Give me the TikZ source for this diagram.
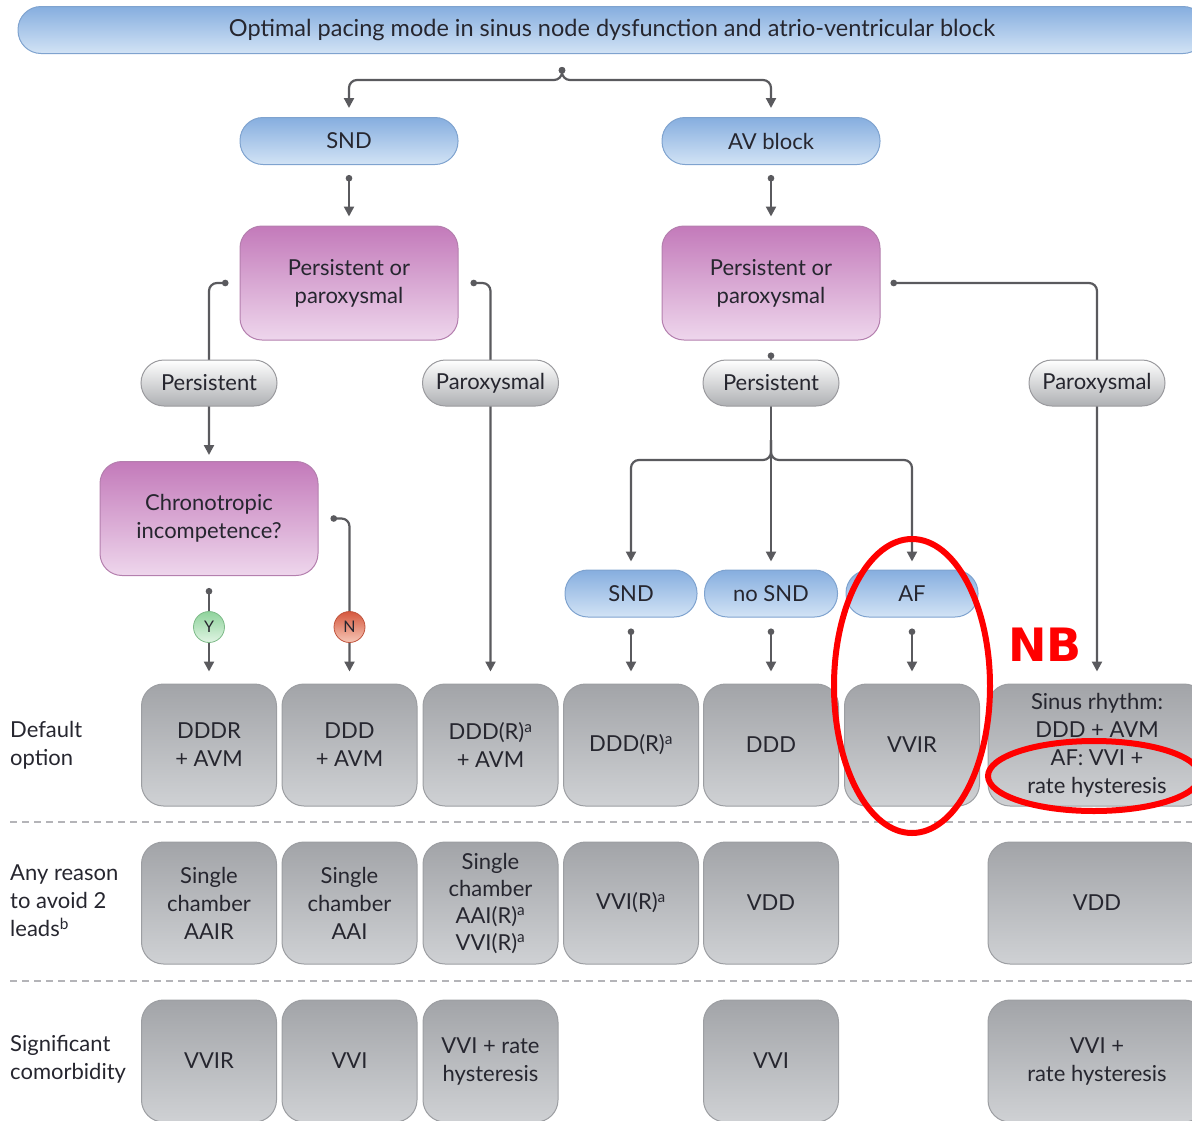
\documentclass[tikz,border=0pt]{standalone}
\usepackage{fontspec}
\setmainfont{Lato}
\newfontfamily\nbfont{DejaVu Sans}
\usetikzlibrary{arrows.meta,backgrounds,calc,shapes.geometric}
\definecolor{txt}{HTML}{26262F}
\definecolor{linec}{HTML}{5A5A5E}
\definecolor{bluetop}{HTML}{86AEDF}
\definecolor{bluebot}{HTML}{D2E3F5}
\definecolor{bluebd}{HTML}{7FA3CF}
\definecolor{purtop}{HTML}{C37ABA}
\definecolor{purbot}{HTML}{EED6EC}
\definecolor{purbd}{HTML}{B47FAE}
\definecolor{graytop}{HTML}{A2A4A8}
\definecolor{graybot}{HTML}{CFD1D4}
\definecolor{graybd}{HTML}{9C9EA2}
\definecolor{pilltop}{HTML}{FFFFFF}
\definecolor{pillbot}{HTML}{AEB0B3}
\definecolor{pillbd}{HTML}{9A9A9E}
\definecolor{ytop}{HTML}{8FD39C}
\definecolor{ybot}{HTML}{E0F4E3}
\definecolor{ntop}{HTML}{D5583E}
\definecolor{nbot}{HTML}{F6C6B6}
\definecolor{ybd}{HTML}{7DBA88}
\definecolor{nbd}{HTML}{C0533C}
\definecolor{dashc}{HTML}{B4B4B8}
\definecolor{nbred}{HTML}{FF0000}
\begin{document}
\begin{tikzpicture}[x=1pt,y=-1pt,
  base/.style={align=center, text=txt, font=\fontsize{22}{28}\selectfont, inner sep=0pt},
  bluepill/.style={base, draw=bluebd, line width=1pt, top color=bluetop, bottom color=bluebot, rounded corners=23pt, minimum height=47pt},
  purbox/.style={base, draw=purbd, line width=1pt, top color=purtop, bottom color=purbot, rounded corners=22pt, minimum width=218pt, minimum height=114pt},
  graypill/.style={base, draw=pillbd, line width=1pt, top color=pilltop, bottom color=pillbot, rounded corners=23pt, minimum width=136pt, minimum height=46pt},
  optbox/.style={base, draw=graybd, line width=1pt, top color=graytop, bottom color=graybot, rounded corners=22pt, minimum width=135pt, minimum height=122pt},
  widebox/.style={optbox, minimum width=218pt},
  rowlabel/.style={base, anchor=west, align=left},
  yn/.style={circle, draw=#1bd, line width=0.8pt, top color=#1top, bottom color=#1bot, minimum size=31pt, inner sep=0pt, text=txt, font=\fontsize{16}{16}\selectfont},
  wire/.style={draw=linec, line width=2.2pt, rounded corners=8pt},
  conn/.style={wire, {Circle[length=6.5pt]}-{Triangle[length=10pt,width=10pt]}, shorten <=10pt, shorten >=9pt},
  arr/.style={wire, -{Triangle[length=10pt,width=10pt]}, shorten >=9pt},
  divider/.style={draw=dashc, line width=1.6pt, dash pattern=on 7pt off 5pt},
  redring/.style={draw=nbred, line width=6pt}
]
\useasboundingbox (0,0) rectangle (1192,1120);

% top
\node[bluepill, minimum width=1188pt, font=\fontsize{23.5}{28}\selectfont] (title) at (612,30) {Optimal pacing mode in sinus node dysfunction and atrio-ventricular block};
\node[bluepill, minimum width=218pt] (snd) at (349,141) {SND};
\node[bluepill, minimum width=218pt] (avb) at (771,141) {AV block};
\node[purbox] (popL) at (349,283) {Persistent or\\paroxysmal};
\node[purbox] (popR) at (771,283) {Persistent or\\paroxysmal};
\node[graypill] (persL) at (209,383) {Persistent};
\node[graypill] (paroxL) at (490.5,383) {Paroxysmal};
\node[graypill] (persR) at (771,383) {Persistent};
\node[graypill] (paroxR) at (1097,383) {Paroxysmal};
\node[purbox] (chrono) at (209,518.5) {Chronotropic\\incompetence?};
\node[yn=y] (yes) at (209,627) {Y};
\node[yn=n] (no) at (349.5,627) {N};
\node[bluepill, minimum width=132pt] (sndL) at (631,593.5) {SND};
\node[bluepill, minimum width=133pt] (nosnd) at (771,593.5) {no SND};
\node[bluepill, minimum width=132pt] (af) at (912,593.5) {AF};

% row labels
\node[rowlabel] (lab1) at (10,745) {Default\\option};
\node[rowlabel] (lab2) at (10,901) {Any reason\\to avoid 2\\leads\textsuperscript{b}};
\node[rowlabel] (lab3) at (10,1059) {Significant\\comorbidity};

% row 1
\node[optbox] (b11) at (209,745) {DDDR\\+ AVM};
\node[optbox] (b12) at (349.5,745) {DDD\\+ AVM};
\node[optbox] (b13) at (490.5,745) {DDD(R)\textsuperscript{a}\\+ AVM};
\node[optbox] (b14) at (631,745) {DDD(R)\textsuperscript{a}};
\node[optbox] (b15) at (771,745) {DDD};
\node[optbox] (b16) at (912,745) {VVIR};
\node[widebox] (b17) at (1097,745) {Sinus rhythm:\\DDD + AVM\\AF: VVI +\\rate hysteresis};
% row 2
\node[optbox] (b21) at (209,903) {Single\\chamber\\AAIR};
\node[optbox] (b22) at (349.5,903) {Single\\chamber\\AAI};
\node[optbox, font=\fontsize{22}{27}\selectfont] (b23) at (490.5,903) {Single\\chamber\\AAI(R)\textsuperscript{a}\\VVI(R)\textsuperscript{a}};
\node[optbox] (b24) at (631,903) {VVI(R)\textsuperscript{a}};
\node[optbox] (b25) at (771,903) {VDD};
\node[widebox] (b27) at (1097,903) {VDD};
% row 3
\node[optbox] (b31) at (209,1061) {VVIR};
\node[optbox] (b32) at (349.5,1061) {VVI};
\node[optbox] (b33) at (490.5,1061) {VVI + rate\\hysteresis};
\node[optbox] (b35) at (771,1061) {VVI};
\node[widebox] (b37) at (1097,1061) {VVI +\\rate hysteresis};

\coordinate (tsplit) at (562,67);
\coordinate (tbar) at (562,80);
\coordinate (jtop) at (771,440);
\coordinate (jn) at (771,460);

\begin{scope}[on background layer]
  \draw[divider] (10,822) -- (1192,822);
  \draw[divider] (10,981) -- (1192,981);
  \draw[wire, {Circle[length=6.5pt]}-{Triangle[length=10pt,width=10pt]}, shorten >=9pt] (tsplit) |- (snd.north |- tbar) -- (snd.north);
  \draw[wire, {Circle[length=6.5pt]}-{Triangle[length=10pt,width=10pt]}, shorten >=9pt] (tsplit) |- (avb.north |- tbar) -- (avb.north);
  \draw[conn] (snd.south) -- (popL.north);
  \draw[conn] (avb.south) -- (popR.north);
  \draw[conn, shorten <=11pt, shorten >=6pt] (popL.west) -| (chrono.north);
  \draw[conn, shorten <=12pt, shorten >=12pt] (popL.east) -| (b13.north);
  \draw[conn, shorten <=12pt, shorten >=12pt] (chrono.south) -- (chrono.south |- b11.north);
  \draw[conn, shorten <=12pt, shorten >=12pt] (chrono.east) -| (b12.north);
  \draw[conn, shorten <=12pt, shorten >=8pt] (popR.south) -- (popR.south |- nosnd.north);
  \draw[arr, shorten >=8pt] (jtop) |- (sndL.north |- jn) -- (sndL.north);
  \draw[arr, shorten >=8pt] (jtop) |- (af.north |- jn) -- (af.north);
  \draw[conn, shorten <=10pt, shorten >=12pt] (popR.east) -| (b17.north);
  \draw[conn, shorten <=11pt, shorten >=12pt] (sndL.south) -- (sndL.south |- b14.north);
  \draw[conn, shorten <=11pt, shorten >=12pt] (nosnd.south) -- (nosnd.south |- b15.north);
  \draw[conn, shorten <=11pt, shorten >=12pt] (af.south) -- (af.south |- b16.north);
\end{scope}

% annotations
\draw[redring] (912,686) ellipse [x radius=78pt, y radius=147pt];
\draw[redring] (1094,776) ellipse [x radius=106pt, y radius=35pt];
\node[text=nbred, font=\nbfont\bfseries\fontsize{46}{46}\selectfont, inner sep=0pt] (nb) at (1045,645) {NB};
\end{tikzpicture}
\end{document}
